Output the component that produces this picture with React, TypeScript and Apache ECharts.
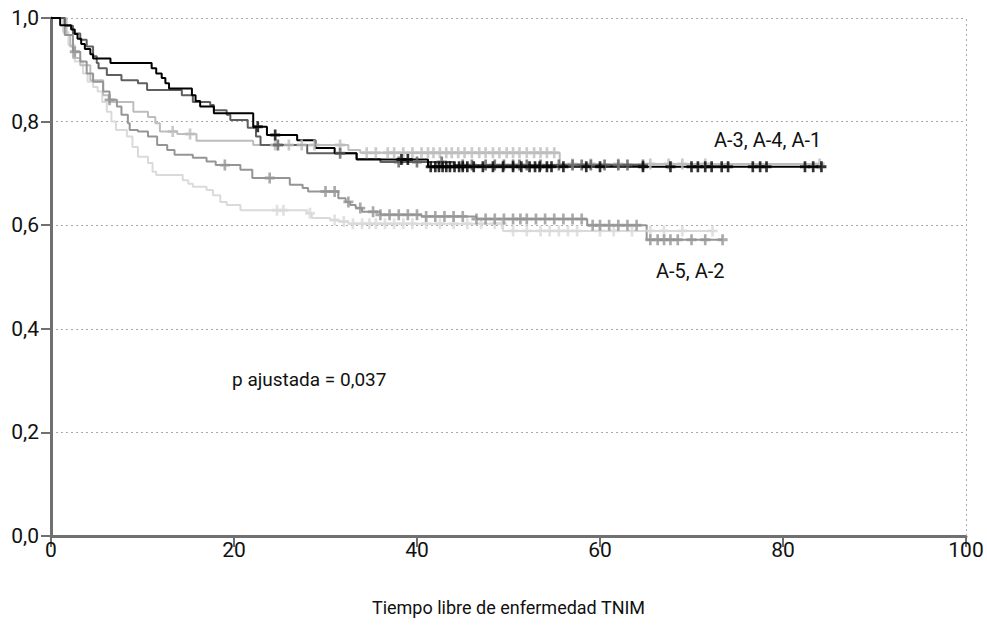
import React, { useEffect, useRef } from "react";
import * as echarts from "echarts";

// ---- Data ----
const xTicks = [0, 20, 40, 60, 80, 100];
const yTicks = [0, 0.2, 0.4, 0.6, 0.8, 1.0];

// A-1 (black)
const a1Times = [0, 1.0, 2.2, 2.6, 2.9, 3.3, 3.7, 4.3, 4.6, 6.5, 11.0, 11.5, 12.1, 12.5, 12.9, 15.4, 15.8, 16.3, 17.8, 22.1, 23.6, 26.9, 28.9, 31.0, 33.4, 41.2];
const a1Surv = [1.0, 0.986, 0.978, 0.969, 0.96, 0.95, 0.94, 0.93, 0.922, 0.913, 0.903, 0.893, 0.884, 0.874, 0.864, 0.851, 0.84, 0.829, 0.816, 0.79, 0.774, 0.764, 0.749, 0.739, 0.727, 0.713];
const a1End = 84.2;
const a1Cens = [22.6, 24.5, 38.3, 39.0, 41.5, 42.0, 42.4, 42.8, 43.2, 43.6, 44.1, 44.6, 45.0, 45.5, 46.2, 47.2, 48.3, 49.4, 50.5, 51.4, 52.3, 52.9, 53.4, 54.2, 54.7, 56.0, 58.5, 60.0, 64.7, 67.7, 70.0, 70.7, 71.5, 72.2, 73.3, 74.0, 76.7, 77.5, 78.2, 82.4, 83.3, 84.2];

// A-4 (dark grey)
const a4Times = [0, 1.5, 2.4, 3.2, 3.9, 4.6, 5.0, 5.2, 6.1, 7.7, 9.5, 10.5, 14.3, 15.5, 17.4, 17.8, 19.2, 19.6, 21.5, 22.4, 22.9, 28.0, 33.4, 36.0, 44.0];
const a4Surv = [1.0, 0.985, 0.97, 0.958, 0.945, 0.926, 0.913, 0.903, 0.89, 0.88, 0.874, 0.861, 0.851, 0.838, 0.832, 0.822, 0.813, 0.803, 0.788, 0.771, 0.755, 0.739, 0.728, 0.722, 0.716];
const a4End = 65.0;
const a4Cens = [24.8, 31.6, 38.0, 40.0, 42.7, 45.0, 46.0, 47.5, 48.5, 49.5, 50.5, 51.2, 52.0, 53.5, 55.5, 57.0, 58.0, 59.0, 60.5, 62.0, 63.0, 64.7];

// A-3 (light grey)
const a3Times = [0, 1.7, 2.1, 2.4, 3.2, 4.3, 5.7, 6.3, 9.0, 10.6, 11.4, 11.9, 13.8, 15.9, 22.1, 32.5, 33.8, 55.6];
const a3Surv = [1.0, 0.967, 0.945, 0.923, 0.909, 0.88, 0.851, 0.838, 0.819, 0.809, 0.797, 0.781, 0.776, 0.763, 0.755, 0.745, 0.74, 0.718];
const a3End = 84.0;
const a3Cens = [13.3, 15.2, 24.5, 26.0, 27.4, 28.8, 31.6, 34.5, 35.5, 36.8, 37.5, 38.5, 39.5, 40.5, 41.2, 41.8, 42.5, 43.2, 43.8, 44.5, 45.2, 46.0, 46.8, 47.5, 48.3, 49.0, 49.8, 50.5, 51.2, 52.0, 52.8, 53.5, 54.2, 55.0, 57.0, 59.0, 62.0, 65.5, 67.5, 69.0, 71.5, 84.0];

// A-5 (medium grey)
const a5Times = [0, 1.5, 2.4, 3.2, 3.9, 4.6, 5.7, 6.4, 7.2, 7.7, 8.4, 8.6, 9.5, 10.6, 11.6, 12.7, 13.5, 15.5, 17.0, 18.0, 20.7, 22.0, 26.1, 27.5, 28.1, 31.4, 32.2, 32.7, 33.3, 34.0, 36.0, 40.5, 46.5, 58.6, 65.1];
const a5Surv = [1.0, 0.967, 0.935, 0.916, 0.893, 0.877, 0.858, 0.842, 0.829, 0.813, 0.797, 0.784, 0.781, 0.771, 0.755, 0.745, 0.736, 0.73, 0.723, 0.716, 0.707, 0.691, 0.678, 0.672, 0.665, 0.652, 0.645, 0.639, 0.633, 0.626, 0.62, 0.617, 0.612, 0.6, 0.572];
const a5End = 73.4;
const a5Cens = [2.6, 6.4, 19.0, 23.9, 30.0, 31.0, 32.5, 33.8, 35.2, 36.0, 37.0, 38.0, 39.0, 40.0, 41.0, 42.0, 43.0, 44.0, 45.0, 46.5, 47.5, 48.5, 49.5, 50.5, 51.3, 52.0, 53.0, 54.0, 55.0, 56.0, 57.0, 58.0, 59.2, 60.0, 61.0, 62.0, 63.0, 64.0, 65.5, 66.3, 67.0, 67.7, 68.5, 70.0, 71.5, 73.4];

// A-2 (very light grey)
const a2Times = [0, 1.3, 1.9, 2.6, 3.5, 4.0, 4.6, 5.1, 5.6, 6.1, 6.6, 7.1, 8.3, 8.9, 9.5, 10.6, 11.1, 11.5, 14.4, 15.0, 15.5, 17.0, 17.7, 18.5, 19.2, 20.7, 28.0, 28.5, 30.5, 31.4, 32.5, 49.4];
const a2Surv = [1.0, 0.973, 0.948, 0.916, 0.893, 0.877, 0.867, 0.858, 0.838, 0.819, 0.8, 0.784, 0.771, 0.751, 0.732, 0.72, 0.703, 0.697, 0.687, 0.68, 0.674, 0.668, 0.658, 0.645, 0.639, 0.629, 0.623, 0.614, 0.61, 0.607, 0.603, 0.589];
const a2End = 72.3;
const a2Cens = [24.7, 25.4, 28.3, 31.0, 32.0, 33.0, 34.0, 34.8, 35.5, 36.5, 37.5, 38.5, 39.5, 41.0, 42.5, 44.0, 45.5, 47.0, 48.5, 49.3, 50.5, 52.0, 53.5, 54.5, 55.5, 56.5, 57.5, 60.0, 61.5, 63.5, 65.5, 67.0, 69.0, 72.3];

const groupLabelTop = "A-3, A-4, A-1";
const groupLabelBottom = "A-5, A-2";
const pText = "p ajustada = 0,037";
const xName = "Tiempo libre de enfermedad TNIM";

const FONT = "'Liberation Sans Narrow', 'Arial Narrow', 'Roboto', sans-serif";
const PLUS = "path://M3.3,0H5.7V3.3H9V5.7H5.7V9H3.3V5.7H0V3.3H3.3Z";

function survAt(times: number[], surv: number[], t: number) {
  let v = surv[0];
  for (let i = 0; i < times.length; i++) {
    if (times[i] <= t) v = surv[i];
  }
  return v;
}

function curve(times: number[], surv: number[], end: number) {
  const d = times.map((t, i) => [t, surv[i]]);
  d.push([end, surv[surv.length - 1]]);
  return d;
}

const groups = [
  { name: "A-2", times: a2Times, surv: a2Surv, end: a2End, cens: a2Cens, color: "#dadada" },
  { name: "A-3", times: a3Times, surv: a3Surv, end: a3End, cens: a3Cens, color: "#bdbdbd" },
  { name: "A-5", times: a5Times, surv: a5Surv, end: a5End, cens: a5Cens, color: "#959595" },
  { name: "A-4", times: a4Times, surv: a4Surv, end: a4End, cens: a4Cens, color: "#5f5f5f" },
  { name: "A-1", times: a1Times, surv: a1Surv, end: a1End, cens: a1Cens, color: "#000000" },
];

export default function App() {
  const ref = useRef<HTMLDivElement>(null);
  useEffect(() => {
    document.body.style.margin = "0";
    if (!ref.current) return;
    const chart = echarts.init(ref.current, null, { renderer: "svg" });
    const series: any[] = [];
    groups.forEach((g) => {
      series.push({
        name: g.name,
        type: "line",
        step: "end",
        data: curve(g.times, g.surv, g.end),
        showSymbol: false,
        symbol: "none",
        lineStyle: { color: g.color, width: 2 },
        itemStyle: { color: g.color },
        z: 2,
      });
    });
    groups.forEach((g) => {
      series.push({
        name: g.name + " cens",
        type: "scatter",
        data: g.cens.map((t) => [t, survAt(g.times, g.surv, t)]),
        symbol: PLUS,
        symbolSize: [10, 11],
        itemStyle: { color: g.color },
        z: 3,
      });
    });
    series[0].markLine = {
      silent: true,
      symbol: "none",
      label: { show: false },
      lineStyle: { color: "#aaaaaa", type: [2, 3], width: 1 },
      data: [{ xAxis: 100 }],
    };

    chart.setOption({
      animation: false,
      backgroundColor: "#ffffff",
      grid: { left: 51, right: 21, top: 18, bottom: 90, containLabel: false },
      textStyle: { fontFamily: FONT },
      xAxis: {
        type: "value",
        min: xTicks[0],
        max: xTicks[xTicks.length - 1],
        interval: 20,
        name: xName,
        nameLocation: "middle",
        nameGap: 62,
        nameTextStyle: { fontFamily: FONT, fontSize: 18, color: "#111" },
        axisLine: { show: true, onZero: false, lineStyle: { color: "#707070", width: 3 } },
        axisTick: { show: true, length: 11, lineStyle: { color: "#707070", width: 2 } },
        axisLabel: { fontFamily: FONT, fontSize: 21, color: "#111", margin: 3 },
        splitLine: { show: false },
      },
      yAxis: {
        type: "value",
        min: yTicks[0],
        max: yTicks[yTicks.length - 1],
        interval: 0.2,
        axisLine: { show: true, onZero: false, lineStyle: { color: "#707070", width: 3 } },
        axisTick: { show: true, length: 10, lineStyle: { color: "#707070", width: 2 } },
        axisLabel: {
          fontFamily: FONT,
          fontSize: 21,
          color: "#111",
          margin: 12,
          formatter: (v: number) => v.toFixed(1).replace(".", ","),
        },
        splitLine: { show: true, lineStyle: { color: "#aaaaaa", type: [2, 3], width: 1 } },
      },
      graphic: [
        {
          type: "text",
          x: 714,
          y: 140,
          style: { text: groupLabelTop, font: `20px ${FONT}`, fill: "#111", textVerticalAlign: "middle" },
        },
        {
          type: "text",
          x: 656,
          y: 271,
          style: { text: groupLabelBottom, font: `20px ${FONT}`, fill: "#111", textVerticalAlign: "middle" },
        },
        {
          type: "text",
          x: 232,
          y: 379,
          style: { text: pText, font: `19px ${FONT}`, fill: "#111", textVerticalAlign: "middle" },
        },
      ],
      series,
    });
    return () => chart.dispose();
  }, []);
  return <div ref={ref} style={{ width: 987, height: 626 }} />;
}
